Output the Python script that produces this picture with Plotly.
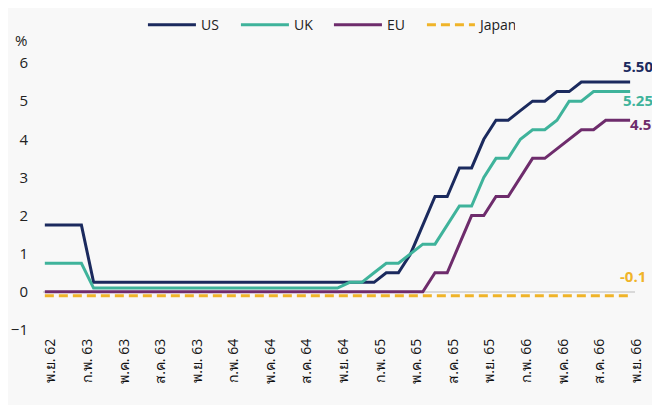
import plotly.graph_objects as go

months = ["พ.ย. 62","ธ.ค. 62","ม.ค. 63","ก.พ. 63","มี.ค. 63","เม.ย. 63","พ.ค. 63","มิ.ย. 63","ก.ค. 63","ส.ค. 63","ก.ย. 63","ต.ค. 63",
          "พ.ย. 63","ธ.ค. 63","ม.ค. 64","ก.พ. 64","มี.ค. 64","เม.ย. 64","พ.ค. 64","มิ.ย. 64","ก.ค. 64","ส.ค. 64","ก.ย. 64","ต.ค. 64",
          "พ.ย. 64","ธ.ค. 64","ม.ค. 65","ก.พ. 65","มี.ค. 65","เม.ย. 65","พ.ค. 65","มิ.ย. 65","ก.ค. 65","ส.ค. 65","ก.ย. 65","ต.ค. 65",
          "พ.ย. 65","ธ.ค. 65","ม.ค. 66","ก.พ. 66","มี.ค. 66","เม.ย. 66","พ.ค. 66","มิ.ย. 66","ก.ค. 66","ส.ค. 66","ก.ย. 66","ต.ค. 66",
          "พ.ย. 66"]
tick_labels = ["พ.ย. 62","ก.พ. 63","พ.ค. 63","ส.ค. 63","พ.ย. 63","ก.พ. 64","พ.ค. 64","ส.ค. 64","พ.ย. 64",
               "ก.พ. 65","พ.ค. 65","ส.ค. 65","พ.ย. 65","ก.พ. 66","พ.ค. 66","ส.ค. 66","พ.ย. 66"]

us = [1.75,1.75,1.75,1.75,0.25,0.25,0.25,0.25,0.25,0.25,0.25,0.25,
      0.25,0.25,0.25,0.25,0.25,0.25,0.25,0.25,0.25,0.25,0.25,0.25,
      0.25,0.25,0.25,0.25,0.5,0.5,1.0,1.75,2.5,2.5,3.25,3.25,
      4.0,4.5,4.5,4.75,5.0,5.0,5.25,5.25,5.5,5.5,5.5,5.5,
      5.5]
uk = [0.75,0.75,0.75,0.75,0.1,0.1,0.1,0.1,0.1,0.1,0.1,0.1,
      0.1,0.1,0.1,0.1,0.1,0.1,0.1,0.1,0.1,0.1,0.1,0.1,
      0.1,0.25,0.25,0.5,0.75,0.75,1.0,1.25,1.25,1.75,2.25,2.25,
      3.0,3.5,3.5,4.0,4.25,4.25,4.5,5.0,5.0,5.25,5.25,5.25,
      5.25]
eu = [0,0,0,0,0,0,0,0,0,0,0,0,
      0,0,0,0,0,0,0,0,0,0,0,0,
      0,0,0,0,0,0,0,0,0.5,0.5,1.25,2.0,
      2.0,2.5,2.5,3.0,3.5,3.5,3.75,4.0,4.25,4.25,4.5,4.5,
      4.5]
japan = [-0.1,-0.1,-0.1,-0.1,-0.1,-0.1,-0.1,-0.1,-0.1,-0.1,-0.1,-0.1,
         -0.1,-0.1,-0.1,-0.1,-0.1,-0.1,-0.1,-0.1,-0.1,-0.1,-0.1,-0.1,
         -0.1,-0.1,-0.1,-0.1,-0.1,-0.1,-0.1,-0.1,-0.1,-0.1,-0.1,-0.1,
         -0.1,-0.1,-0.1,-0.1,-0.1,-0.1,-0.1,-0.1,-0.1,-0.1,-0.1,-0.1,
         -0.1]

C_US = "#1B2A5E"
C_UK = "#3FB39B"
C_EU = "#6E2C6C"
C_JP = "#F0B429"

FONT = "Open Sans, Noto Sans, DejaVu Sans, sans-serif"

fig = go.Figure()
fig.add_trace(go.Scatter(x=months, y=us, name="US", mode="lines",
                         line=dict(color=C_US, width=3)))
fig.add_trace(go.Scatter(x=months, y=uk, name="UK", mode="lines",
                         line=dict(color=C_UK, width=3)))
fig.add_trace(go.Scatter(x=months, y=eu, name="EU", mode="lines",
                         line=dict(color=C_EU, width=3)))
fig.add_trace(go.Scatter(x=months, y=japan, name="Japan", mode="lines",
                         line=dict(color=C_JP, width=3, dash="9px,5px")))

ends = [("5.50", 5.92, C_US, 25), ("5.25", 5.03, C_UK, 25),
        ("4.5", 4.4, C_EU, 23), ("-0.1", 0.42, C_JP, 18)]
for txt, ypos, col, xs in ends:
    fig.add_annotation(x=months[-1], y=ypos, text="<b>%s</b>" % txt, showarrow=False,
                       xanchor="right", yanchor="middle", xshift=xs,
                       font=dict(color=col, size=15, family=FONT))

fig.add_annotation(xref="paper", yref="paper", x=-0.037, y=1.086, text="%",
                   showarrow=False, xanchor="center", yanchor="middle",
                   font=dict(size=15, color="#222", family=FONT))

fig.update_layout(
    width=652, height=397,
    margin=dict(l=35, r=24.5, t=55, b=75, autoexpand=False),
    paper_bgcolor="#f8f8f8", plot_bgcolor="#f8f8f8",
    font=dict(family=FONT, size=14, color="#222"),
    showlegend=True,
    legend=dict(orientation="h", x=0.483, xanchor="center", y=1.142, yanchor="middle",
                font=dict(size=14, color="#222", family=FONT), itemwidth=48,
                entrywidth=30, entrywidthmode="pixels", bgcolor="rgba(0,0,0,0)"),
    xaxis=dict(type="category", range=[-0.15, 48.4], tickmode="array",
               tickvals=tick_labels, ticktext=tick_labels, tickangle=-90,
               showgrid=False, zeroline=False, showline=False, ticks="",
               automargin=False, ticklabelshift=6, ticklabelstandoff=5,
               tickfont=dict(size=14, color="#111", family=FONT)),
    yaxis=dict(range=[-1, 6], dtick=1, tick0=0, showgrid=False,
               zeroline=True, zerolinecolor="#d9d9d9", zerolinewidth=1.5,
               showline=False, ticks="", ticklabelstandoff=14, automargin=False,
               tickfont=dict(size=15, color="#222", family=FONT)),
)

fig.write_html("out.html")
